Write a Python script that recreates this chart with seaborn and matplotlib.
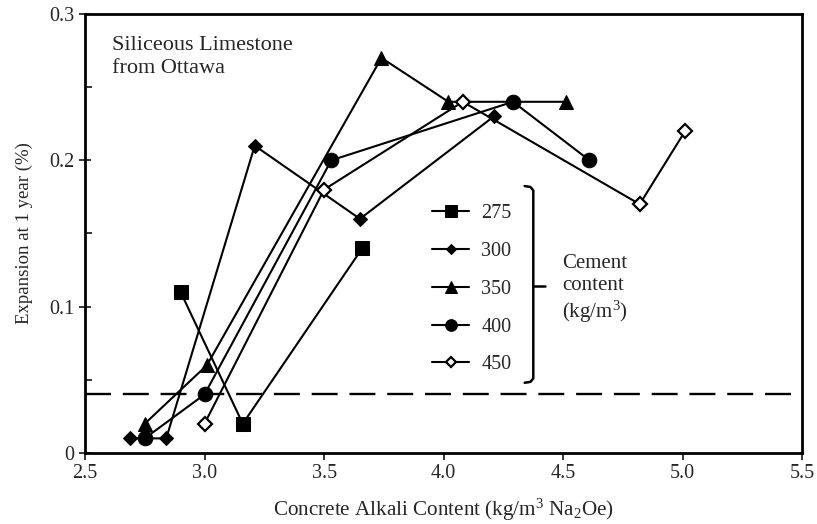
import matplotlib
matplotlib.use("Agg")
import matplotlib.pyplot as plt
import seaborn as sns
import pandas as pd

sns.set_theme(style="ticks")
plt.rcParams["font.family"] = ["Liberation Serif", "DejaVu Serif"]
plt.rcParams["mathtext.fontset"] = "custom"
plt.rcParams["mathtext.rm"] = "Liberation Serif"
plt.rcParams["mathtext.it"] = "Liberation Serif:italic"

# Expansion at 1 year vs. concrete alkali content, per cement content (kg/m3)
alk_275 = [2.90, 3.16, 3.66]
exp_275 = [0.110, 0.020, 0.140]

alk_300 = [2.69, 2.84, 3.21, 3.65, 4.21]
exp_300 = [0.010, 0.010, 0.210, 0.160, 0.230]

alk_350 = [2.75, 3.01, 3.74, 4.02, 4.51]
exp_350 = [0.020, 0.060, 0.270, 0.240, 0.240]

alk_400 = [2.75, 3.00, 3.53, 4.29, 4.61]
exp_400 = [0.010, 0.040, 0.200, 0.240, 0.200]

alk_450 = [3.00, 3.50, 4.08, 4.82, 5.01]
exp_450 = [0.020, 0.180, 0.240, 0.170, 0.220]

cement_labels = ["275", "300", "350", "400", "450"]
threshold = 0.04

x_ticks = [2.5, 3.0, 3.5, 4.0, 4.5, 5.0, 5.5]
x_ticklabels = ["2.5", "3.0", "3.5", "4.0", "4.5", "5.0", "5.5"]
y_ticks = [0, 0.1, 0.2, 0.3]
y_ticklabels = ["0", "0.1", "0.2", "0.3"]

series = [
    (alk_275, exp_275, dict(marker="s", markersize=10, markerfacecolor="black")),
    (alk_300, exp_300, dict(marker="D", markersize=7, markerfacecolor="black")),
    (alk_350, exp_350, dict(marker="^", markersize=10, markerfacecolor="black")),
    (alk_400, exp_400, dict(marker="o", markersize=10.5, markerfacecolor="black")),
    (alk_450, exp_450, dict(marker="D", markersize=7, markerfacecolor="white",
                            markeredgewidth=1.6)),
]

fs = 14.5

fig = plt.figure(figsize=(8.17, 5.24), dpi=100)
ax = fig.add_axes([0.104, 0.1355, 0.878, 0.8378])

for (xs, ys, style), lab in zip(series, cement_labels):
    df = pd.DataFrame({"alkali": xs, "expansion": ys})
    sns.lineplot(data=df, x="alkali", y="expansion", ax=ax, color="black",
                 linewidth=1.5, sort=False, estimator=None,
                 markeredgecolor="black", label=lab, **style)

ax.axhline(threshold, color="black", linewidth=1.7, dashes=(11, 5))

ax.set_xlim(2.5, 5.5)
ax.set_ylim(0, 0.3)
ax.set_xticks(x_ticks)
ax.set_xticklabels(x_ticklabels)
ax.set_yticks(y_ticks)
ax.set_yticklabels(y_ticklabels)
ax.set_yticks([0.05, 0.15, 0.25], minor=True)
ax.tick_params(axis="x", which="major", direction="out", length=5, width=1.3,
               labelsize=fs, pad=3)
ax.tick_params(axis="y", which="major", direction="inout", length=9, width=1.3,
               labelsize=fs, pad=3)
ax.tick_params(axis="y", which="minor", direction="in", length=5, width=1.3)
for sp in ax.spines.values():
    sp.set_linewidth(2.0)
    sp.set_color("black")

ax.set_xlabel("Concrete Alkali Content (kg/m$^3$ Na$_2$Oe)", fontsize=15.2,
              labelpad=10)
ax.set_ylabel("Expansion at 1 year (%)", fontsize=13.5, labelpad=12)

ax.text(0.038, 0.950, "Siliceous Limestone\nfrom Ottawa", transform=ax.transAxes,
        fontsize=16, va="top", ha="left", linespacing=1.3)

leg = ax.legend(loc="upper left", bbox_to_anchor=(0.484, 0.567), frameon=False,
                fontsize=fs, handlelength=1.85, handletextpad=0.6,
                labelspacing=0.93, borderaxespad=0, borderpad=0,
                markerscale=0.8)

# bracket grouping the legend entries
bx = 0.625
ax.plot([bx - 0.012, bx - 0.004, bx, bx, bx - 0.004, bx - 0.012],
        [0.608, 0.606, 0.598, 0.170, 0.162, 0.160],
        transform=ax.transAxes, color="black", linewidth=1.8, clip_on=False)
ax.plot([bx, bx + 0.017], [0.380, 0.380], transform=ax.transAxes,
        color="black", linewidth=1.8)
ax.text(0.665, 0.372, "Cement\ncontent\n(kg/m$^3$)", transform=ax.transAxes,
        fontsize=15, va="center", ha="left", linespacing=1.2)

fig.savefig("out.png", dpi=100)
